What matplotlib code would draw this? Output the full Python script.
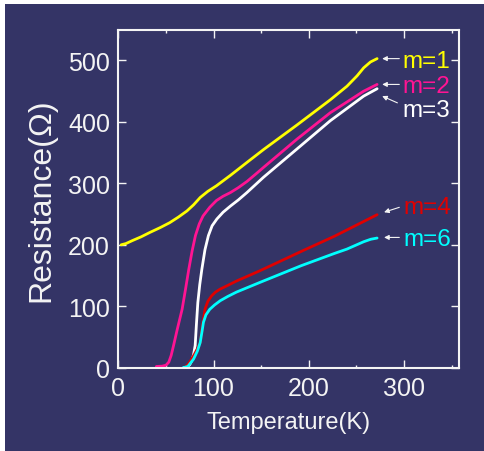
import numpy as np
import matplotlib
matplotlib.use("Agg")
import matplotlib.pyplot as plt
from matplotlib.patches import Rectangle
from matplotlib.ticker import MultipleLocator

# --- Data -----------------------------------------------------------------
T_M1 = [3, 8, 15, 24, 33, 44, 54, 63, 72, 79, 86, 94, 103, 117.7, 135,
        152.5, 187.6, 222.6, 240, 250.7, 257.6, 264.7, 271.7]
R_M1 = [200, 202, 207, 213, 220, 228, 236, 245, 255, 265, 277, 287, 296,
        313, 334, 355, 395, 436, 458, 475, 488, 497.5, 503]

T_M2 = [40, 46, 50, 53, 55.5, 58, 62, 67, 70.5, 74, 77.5, 81, 85, 89, 96,
        103, 110, 117.7, 126, 135, 145, 152.5, 187.6, 222.6, 257.6, 271.7]
R_M2 = [2, 2.5, 4, 9, 20, 36, 63, 95, 127, 160, 190, 215, 234, 247, 261,
        272, 279, 285, 293, 303, 316, 326, 372, 415, 450, 461]

T_M3 = [69, 72, 75, 77, 79, 80.7, 82, 83.5, 85.5, 87.7, 91, 94.6, 98.5,
        103.5, 110, 117.7, 126, 135, 152.5, 187.6, 222.6, 257.6, 271.7]
R_M3 = [0, 1, 5, 11, 21, 36, 70, 106, 135, 160, 192, 215, 231,
        242, 253, 263, 273, 285, 310, 356, 402, 442, 454]

T_M4 = [70, 75, 80, 83, 86, 88.5, 91, 94, 98, 102, 107, 115, 124, 149,
        194.5, 227, 271.7]
R_M4 = [0, 9, 22, 31, 41, 70, 95, 108, 117, 123, 128, 134, 141, 158,
        191, 214, 249]

T_M6 = [68, 73, 79, 83, 86, 88, 89.4, 92, 96, 101, 107, 115, 124, 149,
        192, 227, 240, 257.6, 265, 271.7]
R_M6 = [0, 2, 14, 27, 41, 60, 74, 86, 95, 102, 109, 116, 123, 139,
        166, 186, 193, 205, 209, 211]

LABELS = ["m=1", "m=2", "m=3", "m=4", "m=6"]

# --- Style ----------------------------------------------------------------
BG = "#343466"
FG = "#f4f4f4"
COLORS = ["#ffff00", "#ff1493", "#ffffff", "#e00000", "#00ffff"]

plt.rcParams["font.family"] = ["Liberation Sans", "DejaVu Sans"]

fig = plt.figure(figsize=(4.84, 4.52), dpi=100)
fig.patch.set_facecolor("white")
fig.patches.append(Rectangle((5 / 484, 0), 1, 1 - 5 / 452,
                             transform=fig.transFigure, fc=BG, ec="none",
                             zorder=-10))

ax = fig.add_axes([0.2444, 0.1843, 0.949 - 0.2444, 0.932 - 0.1843])
ax.set_facecolor("none")

series = [(T_M1, R_M1), (T_M2, R_M2), (T_M3, R_M3), (T_M4, R_M4), (T_M6, R_M6)]
for (t, r), c in zip(series, COLORS):
    ax.plot(t, r, color=c, lw=2.0, solid_joinstyle="round",
            solid_capstyle="round", clip_on=False)

ax.set_xlim(0, 358)
ax.set_ylim(0, 550)

for s in ax.spines.values():
    s.set_color(FG)
    s.set_linewidth(1.5)

ax.xaxis.set_major_locator(MultipleLocator(100))
ax.xaxis.set_minor_locator(MultipleLocator(50))
ax.yaxis.set_major_locator(MultipleLocator(100))
ax.tick_params(which="both", direction="in", top=True, right=True,
               colors=FG, labelcolor=FG)
ax.tick_params(which="major", length=6, width=1, labelsize=18, pad=6)
ax.tick_params(which="minor", length=2.5, width=1)

ax.set_xlabel("Temperature(K)", color=FG, fontsize=17, labelpad=8)
ax.set_ylabel("Resistance(\u03a9)", color=FG, fontsize=23, labelpad=8)

# curve labels with small arrows: (text x, text y, arrow tail, arrow head)
label_pos = [
    (298, 503, (295, 503), (277, 503)),
    (298, 463, (295, 461), (277, 461)),
    (298, 424, (293, 431), (277, 442)),
    (299, 266, (295, 261), (279, 253)),
    (299, 213, (295, 212), (279, 212)),
]
for lab, c, (tx, ty, tail, head) in zip(LABELS, COLORS, label_pos):
    ax.text(tx, ty, lab, color=c, fontsize=17.5, ha="left", va="center_baseline")
    ax.annotate("", xy=head, xytext=tail,
                arrowprops=dict(arrowstyle="-|>", color=FG, lw=0.8,
                                mutation_scale=7, shrinkA=0, shrinkB=0))

fig.savefig("out.png", dpi=100, facecolor=fig.get_facecolor())
